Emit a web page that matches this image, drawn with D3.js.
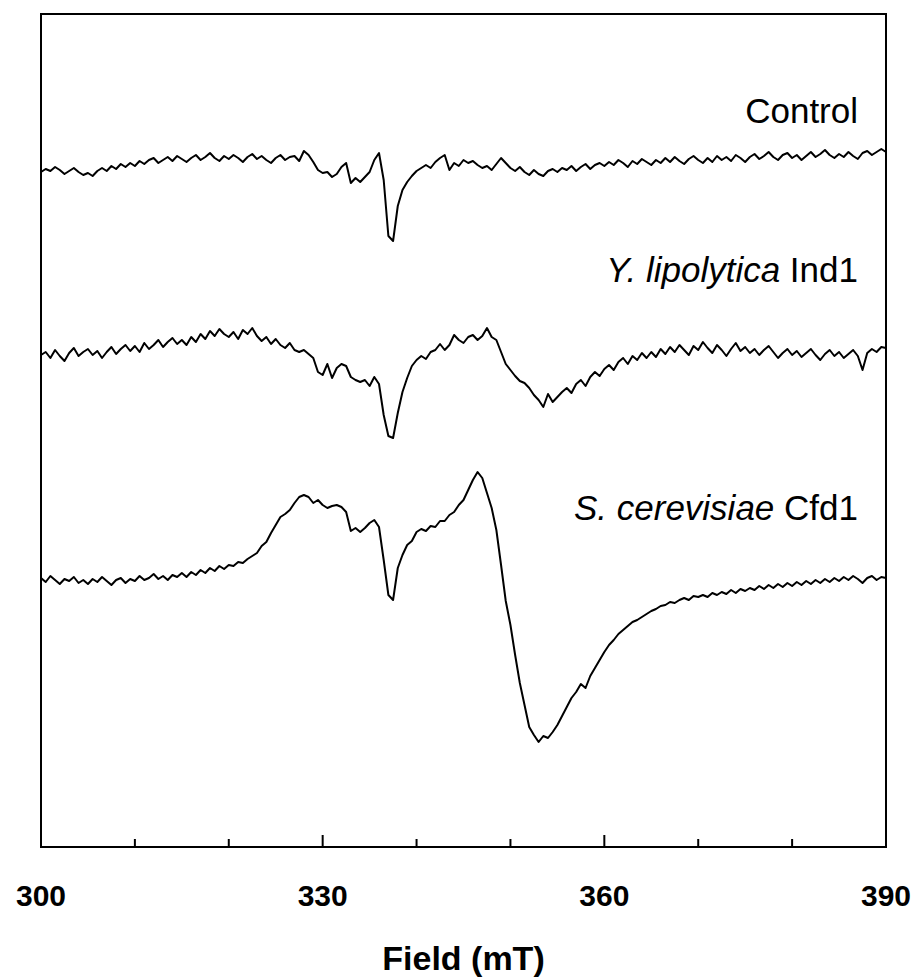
<!DOCTYPE html>
<html>
<head>
<meta charset="utf-8">
<title>EPR spectra</title>
<style>
  body { margin: 0; background: #fff; }
  svg text { font-family: Arial, "Liberation Sans", sans-serif; fill: #000; }
  .tick-label { font-size: 30px; font-weight: bold; text-anchor: middle; }
  .axis-title { font-size: 34px; font-weight: bold; text-anchor: middle; }
  .series-label { font-size: 35px; text-anchor: end; }
  .trace { fill: none; stroke: #000; stroke-width: 2; stroke-linejoin: round; }
</style>
<script src="https://cdn.jsdelivr.net/npm/d3@7"></script>
</head>
<body>
<svg width="915" height="978"></svg>
<script>
// field sampling of the spectra (mT)
var fieldStart = 300, fieldStep = 0.5;

// tick marks along the field axis
var tickValues = [300, 310, 320, 330, 340, 350, 360, 370, 380, 390];
var majorTicks = [330, 360];
var tickLabels = [300, 330, 360, 390];

var seriesNames = ["Control", "Y. lipolytica Ind1", "S. cerevisiae Cfd1"];
// vertical stacking offset of each spectrum (a.u.)
var offsets = [682, 494, 269];

// derivative EPR signal, a.u. relative to each spectrum's baseline
var control = [
  -7,-4,-6,-2,-5,-9,-6,-3,-7,-10,
  -8,-11,-6,-3,-6,-1,-4,1,-2,2,
  -1,4,1,5,7,2,5,8,4,9,
  6,3,7,10,5,8,12,7,4,9,
  6,10,7,3,8,11,6,9,5,2,
  7,10,5,8,9,4,14,10,3,-5,
  -8,-7,-12,-9,-2,2,-18,-13,-17,-12,
  -7,5,12,-15,-71,-76,-41,-25,-17,-11,
  -6,-3,0,-3,3,7,10,-5,2,-1,
  5,2,4,0,-3,-1,-5,1,7,2,
  -3,-6,-2,-7,-10,-5,-9,-11,-6,-4,
  -7,-3,-5,-1,-6,-2,1,-4,0,2,
  -1,3,0,5,2,-2,4,1,6,3,
  0,5,2,7,3,8,4,1,6,9,
  5,2,7,3,9,5,8,4,10,7,
  3,8,11,6,9,13,8,5,10,12,
  7,10,5,9,13,8,11,15,10,7,
  11,8,13,9,6,12,14,10,13,16,
  13
];

var lipolytica = [
  -2,1,-5,3,-3,-8,0,5,-3,1,
  4,-2,2,-5,1,6,-1,4,8,2,
  7,1,10,4,8,13,6,11,15,9,
  13,8,16,11,19,14,22,17,24,19,
  16,21,14,23,19,25,17,12,16,9,
  14,8,5,10,3,1,3,-1,-5,-19,
  -22,-11,-25,-15,-11,-13,-24,-27,-29,-27,
  -33,-24,-31,-62,-83,-85,-60,-39,-25,-13,
  -7,-3,-6,1,3,9,3,8,18,13,
  10,16,18,13,17,25,16,13,1,-11,
  -17,-23,-28,-30,-35,-42,-47,-54,-41,-49,
  -44,-39,-35,-40,-31,-27,-33,-24,-19,-23,
  -16,-12,-17,-9,-5,-11,-3,-7,0,-5,
  1,-4,4,-1,6,1,8,3,-2,7,
  3,11,5,0,8,3,-3,4,10,2,
  6,0,4,-2,3,7,1,-5,0,4,
  -2,2,-4,0,4,-2,-7,-1,3,-3,
  1,-5,-1,3,-3,-17,0,4,1,6,
  5
];

var cerevisiae = [
  0,-4,2,-2,-6,-1,-3,1,-5,-2,
  -6,-1,-4,1,-3,-7,-2,0,-5,-1,
  -3,2,-2,0,4,-1,2,-2,3,1,
  5,1,6,3,8,5,10,7,12,9,
  13,12,16,15,19,22,25,32,36,45,
  53,61,64,68,75,81,83,81,75,78,
  73,70,72,73,71,66,47,50,46,50,
  55,58,51,18,-17,-22,10,23,33,37,
  46,49,47,52,51,57,57,63,66,73,
  78,88,98,106,100,85,70,48,13,-23,
  -47,-77,-105,-127,-149,-157,-164,-158,-160,-154,
  -147,-138,-129,-120,-114,-106,-110,-98,-90,-82,
  -74,-67,-62,-56,-52,-48,-44,-42,-39,-36,
  -33,-31,-28,-27,-24,-25,-22,-20,-22,-18,
  -19,-17,-19,-15,-17,-14,-16,-12,-15,-11,
  -13,-10,-12,-8,-11,-7,-10,-6,-9,-5,
  -8,-4,-7,-3,-6,-2,-5,-1,-4,0,
  -3,1,-2,2,-1,-5,0,2,-2,1,
  0
];

var spectra = [control, lipolytica, cerevisiae];

var svg = d3.select("svg");
var plotLeft = 41, plotRight = 886, plotTop = 14, plotBottom = 847;

var x = d3.scaleLinear().domain([300, 390]).range([plotLeft, plotRight]);
var y = d3.scaleLinear().domain([0, 833]).range([plotBottom, plotTop]);

// frame
svg.append("rect")
  .attr("x", plotLeft).attr("y", plotTop)
  .attr("width", plotRight - plotLeft).attr("height", plotBottom - plotTop)
  .attr("fill", "none").attr("stroke", "#000").attr("stroke-width", 2);

// inward ticks on the bottom axis
svg.selectAll(".tick-mark")
  .data(tickValues)
  .enter().append("line")
  .attr("class", "tick-mark")
  .attr("x1", function(d) { return x(d); })
  .attr("x2", function(d) { return x(d); })
  .attr("y1", plotBottom)
  .attr("y2", function(d) { return majorTicks.indexOf(d) >= 0 ? plotBottom - 12 : plotBottom - 8; })
  .attr("stroke", "#000").attr("stroke-width", 2);

svg.selectAll(".tick-label")
  .data(tickLabels)
  .enter().append("text")
  .attr("class", "tick-label")
  .attr("x", function(d) { return x(d); })
  .attr("y", 906)
  .text(function(d) { return d; });

svg.append("text")
  .attr("class", "axis-title")
  .attr("x", (plotLeft + plotRight) / 2)
  .attr("y", 970)
  .text("Field (mT)");

var line = d3.line()
  .x(function(d, i) { return x(fieldStart + i * fieldStep); })
  .y(function(d) { return y(d); });

svg.selectAll(".trace")
  .data(spectra)
  .enter().append("path")
  .attr("class", "trace")
  .attr("d", function(d, k) {
    return line(d.map(function(v) { return v + offsets[k]; }));
  });

// spectrum labels (species names in italics)
var labelY = [123, 282, 520];
var labels = svg.selectAll(".series-label")
  .data(seriesNames)
  .enter().append("text")
  .attr("class", "series-label")
  .attr("x", 858)
  .attr("y", function(d, i) { return labelY[i]; });

labels.each(function(d) {
  var t = d3.select(this);
  var parts = d.split(" ");
  if (parts.length === 1) {
    t.text(d);
  } else {
    t.append("tspan").style("font-style", "italic").text(parts[0] + " " + parts[1]);
    t.append("tspan").text(" " + parts[2]);
  }
});
</script>
</body>
</html>
